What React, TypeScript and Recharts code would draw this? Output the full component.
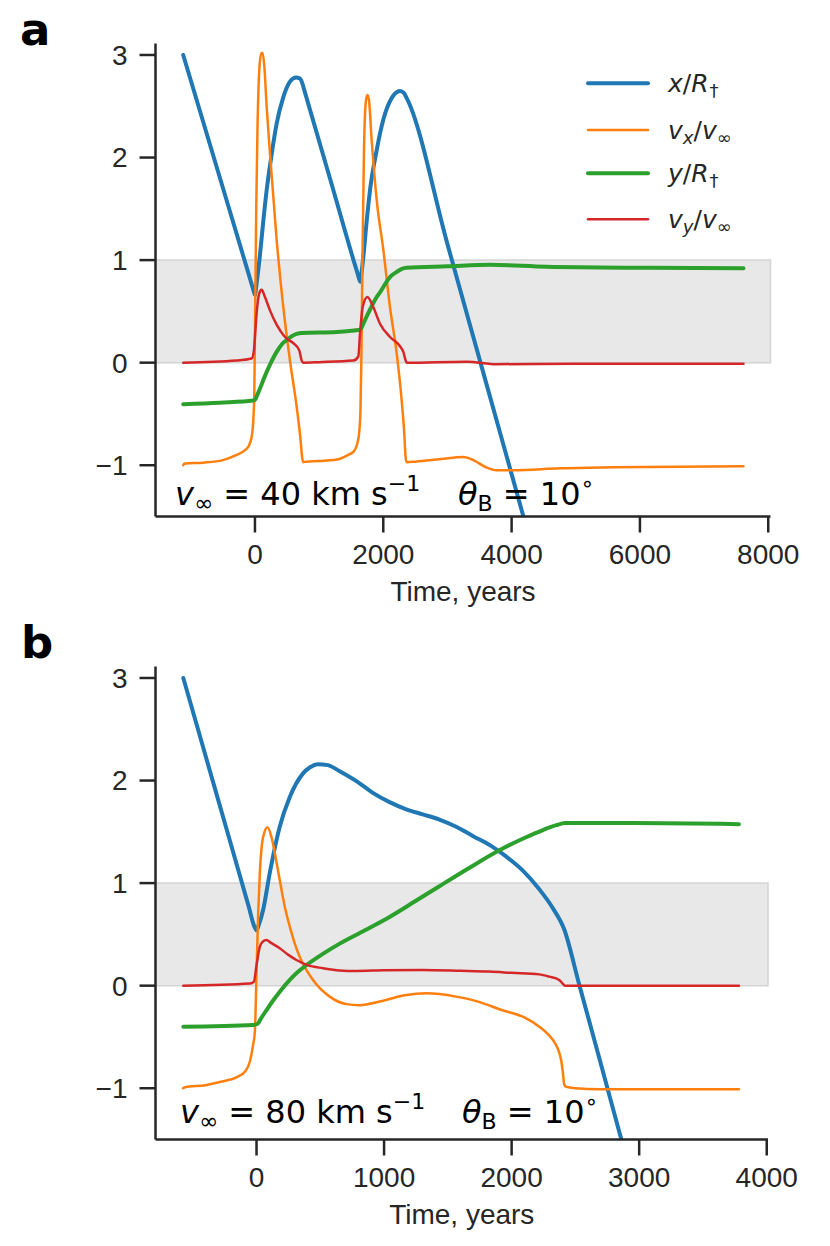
import React from 'react';
import { LineChart, Line, XAxis, YAxis, ReferenceArea } from 'recharts';

// [time (years), value] pairs
// panel a: v_inf = 40 km/s
const A_X: [number, number][] = [
  [-1118, 3.0], [-570, 1.852], [-100, 0.868], [-25, 0.71], [0, 0.66], [25, 0.77], [78, 1.05],
  [130, 1.38], [182, 1.68], [260, 2.03], [338, 2.33], [442, 2.59], [546, 2.74], [640, 2.78],
  [700, 2.77], [740, 2.72], [770, 2.655], [1200, 1.73], [1600, 0.869], [1640, 0.79], [1660, 0.87],
  [1689, 1.03], [1740, 1.37], [1793, 1.68], [1897, 2.07], [2001, 2.37], [2131, 2.58], [2261, 2.65],
  [2320, 2.63], [2365, 2.58], [3000, 1.156], [3600, -0.19], [4184, -1.5], [4400, -1.985],
];
const A_VX: [number, number][] = [
  [-1118, -1.0], [-1100, -0.985], [-806, -0.975], [-500, -0.95], [-286, -0.9], [-150, -0.85],
  [-104, -0.82], [-50, -0.72], [-25, -0.55], [-10, -0.3], [0, 0.3], [20, 1.5], [40, 2.3], [70, 2.88],
  [100, 3.02], [120, 3.02], [145, 2.9], [182, 2.5], [234, 2.04], [338, 1.2], [442, 0.54], [546, 0.02],
  [650, -0.43], [712, -0.76], [735, -0.92], [750, -0.97], [800, -0.965], [1000, -0.96], [1274, -0.945],
  [1450, -0.9], [1533, -0.87], [1590, -0.8], [1625, -0.68], [1645, -0.45], [1660, 0.1], [1675, 1.0],
  [1700, 2.1], [1731, 2.56], [1752, 2.61], [1775, 2.57], [1819, 2.17], [1897, 1.59], [2001, 1.1],
  [2105, 0.54], [2209, 0.09], [2287, -0.37], [2330, -0.72], [2345, -0.9], [2360, -0.97], [2500, -0.965],
  [2900, -0.94], [3249, -0.92], [3404, -0.95], [3600, -1.02], [3769, -1.05], [4028, -1.05],
  [4756, -1.03], [5587, -1.02], [7614, -1.01],
];
const A_Y: [number, number][] = [
  [-1118, -0.405], [-546, -0.39], [-26, -0.37], [10, -0.355], [26, -0.33], [80, -0.25], [130, -0.17],
  [234, -0.02], [338, 0.105], [420, 0.18], [494, 0.22], [580, 0.26], [650, 0.28], [728, 0.29],
  [1274, 0.3], [1637, 0.32], [1690, 0.38], [1741, 0.45], [1820, 0.55], [1897, 0.64], [1949, 0.685],
  [2053, 0.79], [2105, 0.835], [2209, 0.885], [2290, 0.915], [2360, 0.925], [3000, 0.94],
  [3665, 0.955], [4549, 0.935], [6108, 0.925], [7614, 0.92],
];
const A_VY: [number, number][] = [
  [-1118, 0.0], [-286, 0.02], [-52, 0.04], [-16, 0.12], [0, 0.25], [26, 0.48], [67, 0.675],
  [104, 0.71], [156, 0.64], [234, 0.51], [338, 0.37], [468, 0.25], [598, 0.19], [691, 0.12],
  [728, 0.02], [754, 0.0], [1000, 0.005], [1533, 0.02], [1611, 0.06], [1637, 0.28], [1679, 0.54],
  [1752, 0.64], [1845, 0.54], [1949, 0.38], [2105, 0.25], [2261, 0.16], [2313, 0.105], [2355, 0.01],
  [2370, 0.0], [3300, 0.01], [3769, -0.015], [5000, -0.01], [7614, -0.01],
];

// panel b: v_inf = 80 km/s
const B_X: [number, number][] = [
  [-574, 3.0], [-300, 1.809], [-60, 0.766], [-15, 0.57], [0, 0.54], [20, 0.6], [52, 0.74], [104, 1.1],
  [182, 1.55], [261, 1.84], [365, 2.07], [420, 2.13], [480, 2.16], [560, 2.15], [652, 2.09], [800, 1.98],
  [912, 1.88], [1043, 1.79], [1174, 1.72], [1304, 1.67], [1434, 1.62], [1565, 1.55], [1695, 1.46],
  [1830, 1.37], [1956, 1.26], [2090, 1.12], [2217, 0.94], [2321, 0.76], [2412, 0.55], [2530, 0.01],
  [2686, -0.7], [2856, -1.48], [2950, -1.91],
];
const B_VX: [number, number][] = [
  [-577, -1.0], [-560, -0.99], [-400, -0.97], [-287, -0.94], [-150, -0.89], [-92, -0.84], [-50, -0.73],
  [-30, -0.6], [-13, -0.45], [0, 0.12], [13, 0.7], [26, 1.1], [52, 1.45], [86, 1.545], [117, 1.45],
  [150, 1.25], [182, 1.03], [220, 0.78], [261, 0.575], [300, 0.41], [339, 0.28], [443, 0.055],
  [574, -0.107], [704, -0.18], [808, -0.19], [965, -0.155], [1100, -0.11], [1174, -0.09], [1330, -0.075],
  [1565, -0.107], [1750, -0.16], [1904, -0.23], [2100, -0.31], [2217, -0.4], [2290, -0.48],
  [2340, -0.56], [2370, -0.64], [2390, -0.74], [2403, -0.86], [2412, -0.96], [2425, -0.985],
  [2500, -1.0], [2686, -1.01], [3782, -1.01],
];
const B_Y: [number, number][] = [
  [-574, -0.4], [-26, -0.383], [10, -0.372], [30, -0.33], [80, -0.235], [130, -0.145], [190, -0.046],
  [261, 0.057], [330, 0.14], [391, 0.2], [520, 0.31], [652, 0.41], [850, 0.54], [1043, 0.67],
  [1240, 0.82], [1434, 0.97], [1670, 1.15], [1904, 1.32], [2100, 1.44], [2250, 1.52], [2350, 1.565],
  [2420, 1.585], [2947, 1.585], [3782, 1.575],
];
const B_VY: [number, number][] = [
  [-574, 0.0], [-52, 0.02], [-20, 0.04], [0, 0.2], [26, 0.38], [50, 0.43], [78, 0.445], [110, 0.42],
  [182, 0.365], [250, 0.3], [313, 0.25], [400, 0.2], [521, 0.17], [650, 0.148], [782, 0.143],
  [1000, 0.15], [1304, 0.153], [1600, 0.145], [1826, 0.137], [2000, 0.125], [2217, 0.11], [2295, 0.088],
  [2373, 0.056], [2400, 0.02], [2418, 0.0], [3782, 0.0],
];

const A_TICKS_X = [0, 2000, 4000, 6000, 8000];
const B_TICKS_X = [0, 1000, 2000, 3000, 4000];
const TICKS_Y = [-1, 0, 1, 2, 3];

const INK = '#262626';
const TICK_FONT = '"Liberation Sans", Arial, sans-serif';
const MATH_FONT = '"DejaVu Sans", sans-serif';

const SERIES = [
  { key: 'x', color: '#1f77b4', width: 4 },
  { key: 'vx', color: '#ff7f0e', width: 2.5 },
  { key: 'y', color: '#2ca02c', width: 4 },
  { key: 'vy', color: '#d62728', width: 2.5 },
];

const toPts = (arr: [number, number][]) => arr.map(([t, v]) => ({ t, v }));
const fmtY = (v: number) => (v < 0 ? '\u2212' + Math.abs(v) : String(v));

function Panel({ top, series, xDomain, xTicks, right }: any) {
  const axisLine = { stroke: INK, strokeWidth: 2.5 };
  return (
    <div style={{ position: 'absolute', left: 0, top, width: 830, height: 623 }}>
      <LineChart width={830} height={623} margin={{ top: 43.5, right, bottom: 6.5, left: 95.5 }}>
        <XAxis
          dataKey="t"
          type="number"
          domain={xDomain}
          ticks={xTicks}
          allowDataOverflow
          height={100}
          tickSize={16}
          tickMargin={12}
          axisLine={axisLine}
          tickLine={axisLine}
          tick={{ fill: INK, fontSize: 28, fontFamily: TICK_FONT }}
          label={{ value: 'Time, years', position: 'insideBottom', offset: 15.5, fill: INK, fontSize: 28, fontFamily: TICK_FONT }}
        />
        <YAxis
          type="number"
          domain={[-1.5, 3.112]}
          ticks={TICKS_Y}
          allowDataOverflow
          width={60}
          tickSize={16}
          tickMargin={12}
          tickFormatter={fmtY}
          axisLine={axisLine}
          tickLine={axisLine}
          tick={{ fill: INK, fontSize: 28, fontFamily: TICK_FONT }}
        />
        <ReferenceArea y1={0} y2={1} fill="#e8e8e8" fillOpacity={1} stroke="#d4d4d4" strokeWidth={1.5} />
        {SERIES.map((s, i) => (
          <Line
            key={s.key}
            data={toPts(series[i])}
            dataKey="v"
            type="monotone"
            stroke={s.color}
            strokeWidth={s.width}
            strokeLinecap="round"
            strokeLinejoin="round"
            dot={false}
            activeDot={false}
            isAnimationActive={false}
          />
        ))}
      </LineChart>
    </div>
  );
}

const SUB = 18;

function LegendRow({ y, color, width, children }: any) {
  return (
    <g>
      <line x1={588} x2={648} y1={y} y2={y} stroke={color} strokeWidth={width} strokeLinecap="round" />
      <text x={668} y={y + 9} fontSize={25} fontFamily={MATH_FONT} fill={INK} style={{ whiteSpace: 'pre' }}>
        {children}
      </text>
    </g>
  );
}

function Note({ x1, x2, y, speed }: any) {
  return (
    <g fontFamily={MATH_FONT} fill="#000">
      <text x={x1} y={y} fontSize={32} style={{ whiteSpace: 'pre' }}>
        <tspan fontStyle="italic">v</tspan>
        <tspan fontSize={23} dy={6}>∞</tspan>
        <tspan dy={-6}>{` = ${speed} km s`}</tspan>
        <tspan fontSize={22} dy={-14}>−1</tspan>
      </text>
      <text x={x2} y={y} fontSize={32} style={{ whiteSpace: 'pre' }}>
        <tspan fontStyle="italic">θ</tspan>
        <tspan fontSize={22} dy={6}>B</tspan>
        <tspan dy={-6}>{' = 10'}</tspan>
        <tspan fontSize={22} dy={-14}>∘</tspan>
      </text>
    </g>
  );
}

export default function App() {
  return (
    <div style={{ position: 'absolute', left: 0, top: 0, width: 830, height: 1246, background: '#fff' }}>
      <Panel top={0} series={[A_X, A_VX, A_Y, A_VY]} xDomain={[-1550, 8035]} xTicks={A_TICKS_X} right={59.5} />
      <Panel top={623} series={[B_X, B_VX, B_Y, B_VY]} xDomain={[-792, 4010]} xTicks={B_TICKS_X} right={62} />
      <svg width={830} height={1246} style={{ position: 'absolute', left: 0, top: 0, pointerEvents: 'none' }}>
        <text x={20} y={45} fontSize={45} fontWeight="bold" fontFamily={MATH_FONT} fill="#000">a</text>
        <text x={21} y={658} fontSize={45} fontWeight="bold" fontFamily={MATH_FONT} fill="#000">b</text>

        <LegendRow y={83.3} color={SERIES[0].color} width={4}>
          <tspan fontStyle="italic">x</tspan>/<tspan fontStyle="italic">R</tspan>
          <tspan fontSize={SUB} dx={1} dy={5}>†</tspan>
        </LegendRow>
        <LegendRow y={130} color={SERIES[1].color} width={2.5}>
          <tspan fontStyle="italic">v</tspan>
          <tspan fontSize={SUB} dy={5} fontStyle="italic">x</tspan>
          <tspan dy={-5}>/</tspan><tspan fontStyle="italic">v</tspan>
          <tspan fontSize={SUB} dy={5}>∞</tspan>
        </LegendRow>
        <LegendRow y={173.3} color={SERIES[2].color} width={4}>
          <tspan fontStyle="italic">y</tspan>/<tspan fontStyle="italic">R</tspan>
          <tspan fontSize={SUB} dx={1} dy={5}>†</tspan>
        </LegendRow>
        <LegendRow y={219.3} color={SERIES[3].color} width={2.5}>
          <tspan fontStyle="italic">v</tspan>
          <tspan fontSize={SUB} dy={5} fontStyle="italic">y</tspan>
          <tspan dy={-5}>/</tspan><tspan fontStyle="italic">v</tspan>
          <tspan fontSize={SUB} dy={5}>∞</tspan>
        </LegendRow>

        <Note x1={175} x2={458} y={505} speed={40} />
        <Note x1={180} x2={462} y={1123} speed={80} />
      </svg>
    </div>
  );
}
